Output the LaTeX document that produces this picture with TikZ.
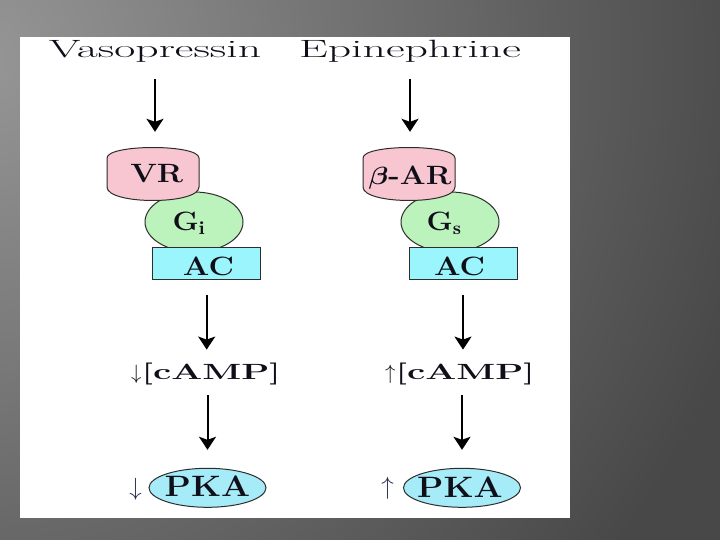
\documentclass[tikz,border=0pt]{standalone}
\usepackage{fontspec}
\usepackage{graphicx}
\usepackage{amsmath}
\usetikzlibrary{arrows.meta,shapes.geometric}
\definecolor{bglight}{RGB}{150,150,150}
\definecolor{bgdark}{RGB}{72,72,72}
\definecolor{vrfill}{RGB}{248,198,208}
\definecolor{gfill}{RGB}{188,242,188}
\definecolor{acfill}{RGB}{155,245,252}
\definecolor{pkafill}{RGB}{165,235,248}
\definecolor{outl}{RGB}{45,45,45}
\definecolor{txt}{RGB}{15,15,25}
\definecolor{symc}{RGB}{45,50,80}
\newcommand{\sx}[2]{\scalebox{#1}[1]{#2}}
\begin{document}
\begin{tikzpicture}[x=1pt,y=-1pt,
  arr/.style={line width=2pt,-{Stealth[length=13pt,width=17pt,inset=3pt]}},
  shapeline/.style={draw=outl,line width=1pt},
  title/.style={font=\fontsize{25}{29}\selectfont,text=txt,inner sep=0pt,anchor=base},
  lbl/.style={font=\fontsize{26.5}{30}\selectfont\bfseries,text=txt,inner sep=0pt,anchor=base},
  pkalbl/.style={font=\fontsize{29.5}{32}\selectfont\bfseries,text=txt,inner sep=0pt,anchor=base},
  camplbl/.style={font=\fontsize{22}{25}\selectfont\bfseries,text=txt,inner sep=0pt,anchor=base west},
  symb/.style={font=\fontsize{24}{28}\selectfont,text=symc,inner sep=0pt},
  hold/.style={rectangle,inner sep=0pt,minimum width=92pt,minimum height=56pt},
  gprot/.style={ellipse,shapeline,fill=gfill,minimum width=98pt,minimum height=60pt,inner sep=0pt},
  acbox/.style={rectangle,shapeline,fill=acfill,minimum width=108pt,minimum height=32pt,inner sep=0pt},
  pka/.style={ellipse,shapeline,fill=pkafill,minimum width=117pt,minimum height=39pt,inner sep=0pt}]
\useasboundingbox (0,0) rectangle (720,540);
% slide background
\begin{scope}
  \clip (0,0) rectangle (720,540);
  \fill[bgdark] (0,0) rectangle (720,540);
  \shade[inner color=bglight,outer color=bgdark] (-20,60) circle (800);
\end{scope}
\fill[white] (20,37) rectangle (570,518);

% titles
\node[title] (vaso) at (155,58) {\sx{1.83}{Vasopressin}};
\node[title] (epi) at (410,58) {\sx{1.83}{Epinephrine}};

% G proteins (drawn first, behind receptor and AC)
\node[gprot] (giL) at (194,222) {};
\node[gprot] (giR) at (450,222) {};

% receptors
\node[hold] (vrL) at (153,173) {};
\node[hold] (barR) at (409,173) {};
\draw[shapeline,fill=vrfill] (107,158) .. controls (107,144) and (199,144) .. (199,158)
  -- (199,187) .. controls (199,205) and (107,205) .. (107,187) -- cycle;
\draw[shapeline,fill=vrfill] (363,158) .. controls (363,144) and (455,144) .. (455,158)
  -- (455,187) .. controls (455,205) and (363,205) .. (363,187) -- cycle;

% adenylyl cyclase
\node[acbox] (acL) at (206.7,263.3) {};
\node[acbox] (acR) at (463,263.3) {};

% labels
\node[lbl] (vrLt) at (156.7,182.7) {\sx{1.18}{VR}};
\node[lbl] (barRt) at (410,184.5) {\sx{1.15}{{\boldmath$\beta$}-AR}};
\node[lbl] (giLt) at (189,230) {\sx{1.12}{G$_{\mathbf{i}}$}};
\node[lbl] (giRt) at (444,230.5) {\sx{1.12}{G$_{\mathbf{s}}$}};
\node[lbl] (acLt) at (208.4,275) {\sx{1.18}{AC}};
\node[lbl] (acRt) at (459.6,275) {\sx{1.18}{AC}};

% cAMP
\node[camplbl] (campL) at (131,379.3) {$\downarrow$\sx{1.66}{[cAMP]}};
\node[camplbl] (campR) at (385,379.3) {$\uparrow$\sx{1.66}{[cAMP]}};

% PKA
\node[pka] (pkaL) at (207.5,487.8) {};
\node[pka] (pkaR) at (462,487.8) {};
\node[pkalbl] (pkaLt) at (207.5,496.5) {\sx{1.16}{PKA}};
\node[pkalbl] (pkaRt) at (460,497) {\sx{1.16}{PKA}};
\node[symb] (pkaLa) at (135.5,489) {$\downarrow$};
\node[symb] (pkaRa) at (387.5,488) {$\uparrow$};

% connectors
\draw[arr,shorten <=16pt,shorten >=13pt] (vaso.south) -- (vaso.south |- vrL.north);
\draw[arr,shorten <=16pt,shorten >=13pt] (epi.south) -- (epi.south |- barR.north);
\draw[arr,shorten <=15pt,shorten >=13pt] (acL.south) -- (acL.south |- campL.north);
\draw[arr,shorten <=15pt,shorten >=13pt] (acR.south) -- (acR.south |- campR.north);
\draw[arr,shorten <=10pt,shorten >=18pt] (pkaL.north |- campL.south) -- (pkaL.north);
\draw[arr,shorten <=10pt,shorten >=18pt] (pkaR.north |- campR.south) -- (pkaR.north);
\end{tikzpicture}
\end{document}
